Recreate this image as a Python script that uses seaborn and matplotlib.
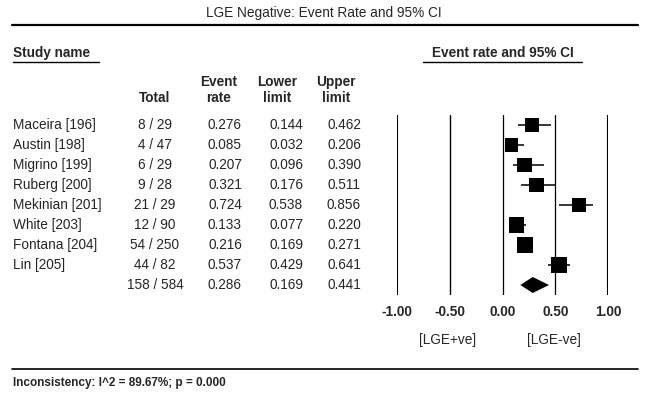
import matplotlib
matplotlib.use("Agg")
import matplotlib.pyplot as plt
import matplotlib.transforms as mtransforms
import seaborn as sns
import pandas as pd
import numpy as np

# data
studies = ['Maceira [196]', 'Austin [198]', 'Migrino [199]', 'Ruberg [200]',
           'Mekinian [201]', 'White [203]', 'Fontana [204]', 'Lin [205]']
totals = ['8 / 29', '4 / 47', '6 / 29', '9 / 28', '21 / 29', '12 / 90',
          '54 / 250', '44 / 82']
rate = [0.276, 0.085, 0.207, 0.321, 0.724, 0.133, 0.216, 0.537]
lower = [0.144, 0.032, 0.096, 0.176, 0.538, 0.077, 0.169, 0.429]
upper = [0.462, 0.206, 0.390, 0.511, 0.856, 0.220, 0.271, 0.641]
weight = [11.1, 10.0, 12.2, 12.2, 12.2, 13.2, 14.5, 14.5]  # relative weight %, guessed from box sizes

pooled_total = '158 / 584'
pooled_rate, pooled_lower, pooled_upper = 0.286, 0.169, 0.441

ticks = [-1.0, -0.5, 0.0, 0.5, 1.0]
footer = 'Inconsistency: I^2 = 89.67%; p = 0.000'

df = pd.DataFrame({'study': studies, 'total': totals, 'rate': rate,
                   'lower': lower, 'upper': upper, 'weight': weight})
df['row'] = np.arange(len(df))
pooled_row = len(df)

sns.set_style('white')
plt.rcParams['font.family'] = ['Liberation Sans', 'DejaVu Sans']
plt.rcParams['font.size'] = 9.8

W, H = 650, 398
fig = plt.figure(figsize=(W / 100, H / 100), dpi=100)

# background axes in pixel units for layout text / rules
bg = fig.add_axes([0, 0, 1, 1])
bg.set_xlim(0, W)
bg.set_ylim(H, 0)
bg.axis('off')

# forest axes
ax = fig.add_axes([397 / W, 1 - 295 / H, 211 / W, 180 / H])
ax.set_xlim(-1, 1)
ax.set_ylim(pooled_row + 0.5, -0.5)

for t in ticks:
    lw = 1.5 if abs(t) == 1 else (1.0 if t == -0.5 else 0.9)
    ax.axvline(t, color='black', lw=lw, zorder=1)

ax.hlines(df['row'], df['lower'], df['upper'], color='black', lw=1.1, zorder=2)
k = 9.16
sns.scatterplot(data=df, x='rate', y='row', size='weight',
                sizes=(k * min(weight), k * max(weight)), marker='s',
                color='black', linewidth=0, legend=False, ax=ax, zorder=3)

h = 0.4
ax.fill([pooled_lower, pooled_rate, pooled_upper, pooled_rate],
        [pooled_row, pooled_row - h, pooled_row, pooled_row + h],
        color='black', lw=0, zorder=3)

sns.despine(ax=ax, left=True, bottom=True)
ax.set_xticks(ticks)
ax.set_xticklabels(['%.2f' % t for t in ticks], fontweight='bold')
ax.tick_params(axis='x', length=0, pad=7)
ax.set_yticks([])
ax.set_xlabel('')
ax.set_ylabel('')

# table columns
tr = mtransforms.blended_transform_factory(bg.transData, ax.transData)
for _, r in df.iterrows():
    y = r['row']
    bg.text(13, y, r['study'], transform=tr, ha='left', va='center')
    bg.text(155, y, r['total'], transform=tr, ha='center', va='center')
    bg.text(225, y, '%.3f' % r['rate'], transform=tr, ha='center', va='center')
    bg.text(286, y, '%.3f' % r['lower'], transform=tr, ha='center', va='center')
    bg.text(344, y, '%.3f' % r['upper'], transform=tr, ha='center', va='center')
bg.text(155, pooled_row, pooled_total, transform=tr, ha='center', va='center')
bg.text(225, pooled_row, '%.3f' % pooled_rate, transform=tr, ha='center', va='center')
bg.text(286, pooled_row, '%.3f' % pooled_lower, transform=tr, ha='center', va='center')
bg.text(344, pooled_row, '%.3f' % pooled_upper, transform=tr, ha='center', va='center')

# headers
bg.text(324, 13, 'LGE Negative: Event Rate and 95% CI', ha='center', va='center')
bg.plot([12, 638], [25, 25], color='black', lw=1.6)
bg.text(13, 53, 'Study name', ha='left', va='center', fontweight='bold')
bg.plot([13, 99], [62, 62], color='black', lw=1.0)
bg.text(503, 53, 'Event rate and 95% CI', ha='center', va='center', fontweight='bold')
bg.plot([423, 582], [62, 62], color='black', lw=1.0)
for x, lab in [(155, '\nTotal'), (219, 'Event\nrate'), (277, 'Lower\nlimit'), (336, 'Upper\nlimit')]:
    bg.text(x, 90, lab, ha='center', va='center', fontweight='bold', linespacing=1.2)

lt = mtransforms.blended_transform_factory(ax.transData, bg.transData)
bg.text(-0.52, 340, '[LGE+ve]', transform=lt, ha='center', va='center')
bg.text(0.49, 340, '[LGE-ve]', transform=lt, ha='center', va='center')

bg.plot([12, 638], [369, 369], color='black', lw=1.2)
bg.text(13, 383, footer, ha='left', va='center', fontweight='bold', fontsize=8.5)

fig.savefig('out.png', dpi=100)
